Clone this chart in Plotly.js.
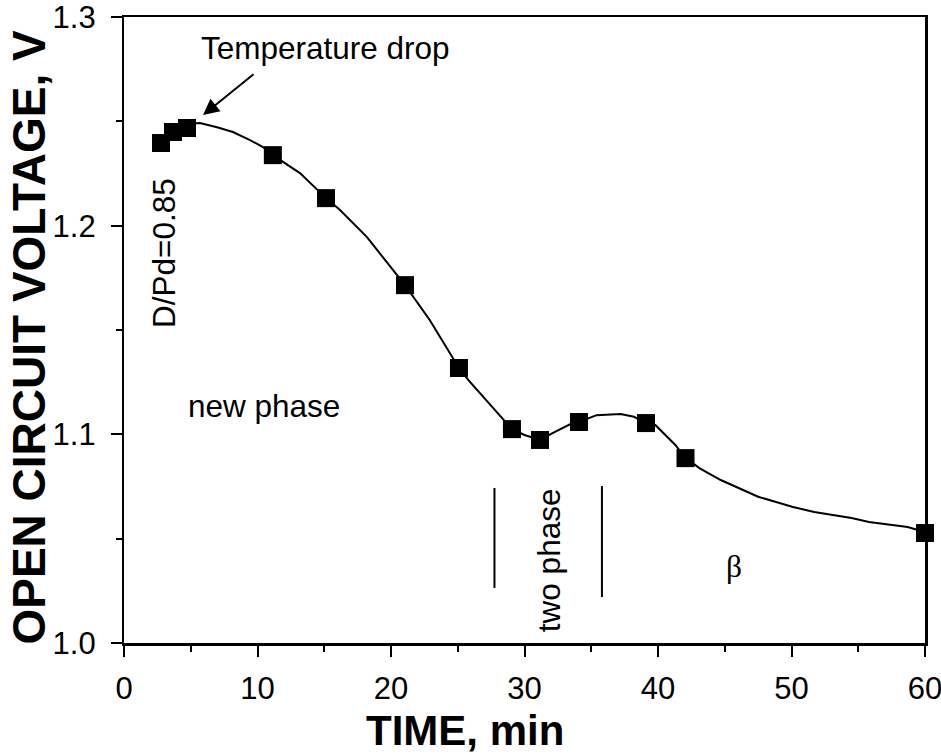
<!DOCTYPE html>
<html>
<head>
<meta charset="utf-8">
<script src="https://cdn.plot.ly/plotly-3.0.1.min.js"></script>
<style>
  body { margin: 0; background: #fff; }
  #ocv_plot { width: 941px; height: 755px; }
</style>
</head>
<body>
<div id="ocv_plot"></div>
<script>
// measured points (squares)
const time_pts = [2.77, 3.67, 4.72, 11.15, 15.13, 21.05, 25.09, 29.06, 31.16, 34.08, 39.1, 42.06, 60]
const volt_pts = [1.2396, 1.2449, 1.2468, 1.2338, 1.2132, 1.1715, 1.1318, 1.1025, 1.0973, 1.1059, 1.1054, 1.0886, 1.0527]

// continuous recorded trace
const time_curve = [4.9, 5.69, 6.97, 8.16, 9.44, 10.41, 11.15, 13.18, 15.13, 16.18, 18.2, 21.05, 22.9, 25.09,
    25.8, 26.9, 28.2, 29.06, 30.0, 31.16, 32.1, 33.6, 34.08, 35.4, 37.2, 38.2, 39.1, 39.8, 41.3, 42.06,
    42.6, 43.1, 44.7, 45.7, 47.5, 49.1, 50.1, 51.7, 53.0, 54.5, 55.8, 57.1, 58.7, 60]
const volt_curve = [1.2488, 1.2492, 1.2472, 1.2449, 1.241, 1.2377, 1.2338, 1.2252, 1.2132, 1.2075, 1.1945, 1.1715, 1.1548, 1.1318,
    1.126, 1.1179, 1.1083, 1.1025, 1.0997, 1.0973, 1.1006, 1.1054, 1.1059, 1.1092, 1.1097, 1.1084, 1.1054, 1.1045, 1.0949, 1.0886,
    1.0862, 1.0838, 1.0781, 1.0752, 1.0701, 1.0671, 1.0652, 1.0628, 1.0613, 1.0599, 1.058, 1.057, 1.0556, 1.0532]

// two-phase region boundaries
const bound_x = [27.75, 35.8]
const bound_y0 = [1.0264, 1.022]
const bound_y1 = [1.0743, 1.0752]

const font_main = 'Arial, "Liberation Sans", Helvetica, sans-serif'

const traces = [
    {
        type: 'scatter',
        mode: 'lines',
        x: time_curve,
        y: volt_curve,
        line: {color: '#000', width: 2},
        hoverinfo: 'skip'
    },
    {
        type: 'scatter',
        mode: 'markers',
        x: time_pts,
        y: volt_pts,
        cliponaxis: false,
        marker: {symbol: 'square', size: 18, color: '#000', line: {width: 0}}
    }
]

const shapes = bound_x.map(function (bx, i) {
    return {
        type: 'line', xref: 'x', yref: 'y',
        x0: bx, x1: bx, y0: bound_y0[i], y1: bound_y1[i],
        line: {color: '#000', width: 2}
    }
})

function label(text, x, y, angle, extra) {
    return Object.assign({
        text: text, x: x, y: y, xref: 'x', yref: 'y',
        showarrow: false, textangle: angle || 0,
        font: {family: font_main, size: 31.5, color: '#000'}
    }, extra || {})
}

const annotations = [
    label('Temperature drop', 15.13, 1.2853),
    label('new phase', 10.45, 1.1135),
    label('D/Pd=0.85', 2.95, 1.1871, -90),
    label('two phase', 31.85, 1.0398, -90),
    label('β', 45.66, 1.0369, 0, {font: {family: '"Times New Roman", "Liberation Serif", serif', size: 31.5, color: '#000'}}),
    {
        // arrow pointing at the temperature drop
        x: 5.92, y: 1.253, xref: 'x', yref: 'y',
        text: '', showarrow: true,
        ax: 52, ay: -42,
        arrowhead: 2, arrowsize: 1.6, arrowwidth: 2, arrowcolor: '#000'
    },
    {
        text: 'TIME, min', xref: 'paper', yref: 'paper',
        x: 0.426, y: -0.139, xanchor: 'center', yanchor: 'middle',
        showarrow: false,
        font: {family: font_main, size: 42, color: '#000', weight: 'bold'}
    },
    {
        text: 'OPEN CIRCUIT VOLTAGE, V', xref: 'paper', yref: 'paper',
        x: -0.119, y: 0.489, xanchor: 'center', yanchor: 'middle',
        textangle: -90, showarrow: false,
        font: {family: font_main, size: 46, color: '#000', weight: 'bold'}
    }
]

Plotly.newPlot('ocv_plot', traces, {
    width: 941,
    height: 755,
    showlegend: false,
    paper_bgcolor: '#fff',
    plot_bgcolor: '#fff',
    margin: {l: 124, r: 16, t: 17, b: 112},
    font: {family: font_main, color: '#000'},
    xaxis: {
        range: [0, 60],
        dtick: 10,
        tick0: 0,
        ticks: 'outside',
        ticklen: 11,
        tickwidth: 2,
        tickcolor: '#000',
        showline: true,
        linewidth: 2.5,
        linecolor: '#000',
        mirror: true,
        showgrid: false,
        zeroline: false,
        ticklabeloverflow: 'allow',
        ticklabelstandoff: 5,
        tickfont: {size: 31},
        minor: {dtick: 5, ticks: 'outside', ticklen: 6, tickwidth: 2, tickcolor: '#000', showgrid: false}
    },
    yaxis: {
        range: [1.0, 1.3],
        dtick: 0.1,
        tick0: 1.0,
        tickformat: '.1f',
        ticksuffix: '\u00a0',
        ticks: 'outside',
        ticklen: 11,
        tickwidth: 2,
        tickcolor: '#000',
        showline: true,
        linewidth: 2.5,
        linecolor: '#000',
        mirror: true,
        showgrid: false,
        zeroline: false,
        ticklabeloverflow: 'allow',
        tickfont: {size: 31},
        minor: {dtick: 0.05, ticks: 'outside', ticklen: 6, tickwidth: 2, tickcolor: '#000', showgrid: false}
    },
    shapes: shapes,
    annotations: annotations
}, {displayModeBar: false, staticPlot: true})
</script>
</body>
</html>
